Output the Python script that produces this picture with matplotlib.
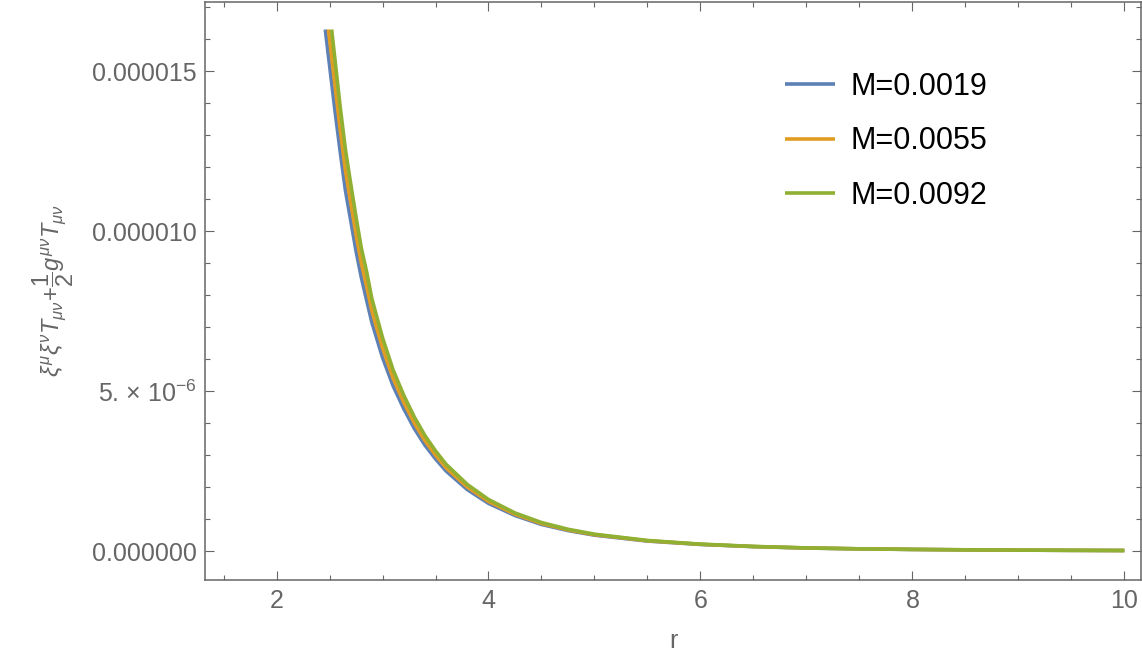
import matplotlib
matplotlib.use("Agg")
import matplotlib.pyplot as plt
from matplotlib.ticker import FixedLocator, MultipleLocator, FixedFormatter

# ---- data (values in units of 1e-6) ----
labels = ["M=0.0019", "M=0.0055", "M=0.0092"]
colors = ["#5E81B5", "#E19C24", "#8FB032"]

r_start = [2.46, 2.49, 2.52]     # where each curve enters the plot range
y_top = 16.3                     # clipped top value (1e-6)

r_grid = [2.55, 2.6, 2.65, 2.7, 2.75, 2.8, 2.85, 2.9, 3.0, 3.1, 3.2, 3.3, 3.4, 3.5,
          3.6, 3.8, 4.0, 4.25, 4.5, 4.75, 5.0, 5.5, 6.0, 6.5, 7.0, 7.5, 8.0, 8.5,
          9.0, 9.5, 10.0]

y_m0019 = [13.8, 12.5, 11.27, 10.33, 9.38, 8.55, 7.84, 7.14, 6.05, 5.16, 4.45, 3.83,
           3.31, 2.88, 2.50, 1.92, 1.49, 1.11, 0.83, 0.64, 0.495, 0.311, 0.205,
           0.137, 0.093, 0.067, 0.049, 0.036, 0.0275, 0.0207, 0.0158]
y_m0055 = [14.6, 13.2, 11.9, 10.9, 9.9, 9.0, 8.28, 7.5, 6.35, 5.4, 4.65, 4.0,
           3.45, 3.0, 2.6, 2.0, 1.55, 1.15, 0.86, 0.66, 0.51, 0.32, 0.21,
           0.14, 0.095, 0.068, 0.05, 0.037, 0.028, 0.021, 0.016]
y_m0092 = [15.4, 13.9, 12.55, 11.48, 10.44, 9.47, 8.73, 7.88, 6.67, 5.66, 4.87, 4.19,
           3.61, 3.13, 2.71, 2.08, 1.61, 1.19, 0.89, 0.68, 0.526, 0.33, 0.215,
           0.143, 0.097, 0.069, 0.051, 0.038, 0.0285, 0.0213, 0.0162]
series = [y_m0019, y_m0055, y_m0092]

ytick_vals = [0.0, 5e-6, 1e-5, 1.5e-5]
ytick_labels = ["0.000000", "5. \u00d7 10$^{\\mathrm{-6}}$", "0.000010", "0.000015"]
xtick_vals = [2, 4, 6, 8, 10]

# ---- figure ----
plt.rcParams['font.family'] = ['Liberation Sans', 'DejaVu Sans']
plt.rcParams['mathtext.fontset'] = 'custom'
plt.rcParams['mathtext.rm'] = 'Liberation Sans'
plt.rcParams['mathtext.it'] = 'Liberation Sans:italic'
plt.rcParams['mathtext.default'] = 'it'

gray = "#666666"
fig = plt.figure(figsize=(11.42, 6.61), dpi=100)
ax = fig.add_axes([205/1142, 81/661, 936/1142, 578/661])

for rs, ys, c, lab in zip(r_start, series, colors, labels):
    xs = [rs] + r_grid
    yv = [y_top * 1e-6] + [v * 1e-6 for v in ys]
    ax.plot(xs, yv, color=c, lw=2.6, label=lab, solid_capstyle='butt',
            solid_joinstyle='round')

ax.set_xlim(1.325, 10.157)
ax.set_ylim(-0.906e-6, 17.16e-6)

ax.xaxis.set_major_locator(FixedLocator(xtick_vals))
ax.xaxis.set_minor_locator(MultipleLocator(0.5))
ax.yaxis.set_major_locator(FixedLocator(ytick_vals))
ax.yaxis.set_major_formatter(FixedFormatter(ytick_labels))
ax.yaxis.set_minor_locator(MultipleLocator(1e-6))

for sp in ax.spines.values():
    sp.set_color(gray)
    sp.set_linewidth(1.1)

ax.tick_params(which='both', direction='in', top=True, right=True,
               color=gray, width=0.8, labelcolor=gray, labelsize=18)
ax.tick_params(which='major', length=6.2)
ax.tick_params(which='minor', length=3.6)
ax.tick_params(axis='y', pad=5.8)
ax.tick_params(axis='x', pad=6.5)

ax.set_xlabel("r", color=gray, fontsize=18)
ax.xaxis.set_label_coords(0.5, -0.085)
ax.set_ylabel(r"$\xi^{\mu}\xi^{\nu}T_{\mu\nu}\!+\!\dfrac{1}{2}g^{\mu\nu}T_{\mu\nu}$",
              color=gray, fontsize=17)
ax.yaxis.set_label_coords(-0.138, 0.5)

leg = ax.legend(loc='upper left', bbox_to_anchor=(0.6197, 0.879), frameon=False,
                fontsize=22, borderpad=0, handlelength=1.65, handletextpad=0.5,
                labelspacing=0.8, borderaxespad=0)

fig.savefig("out.png", dpi=100)
